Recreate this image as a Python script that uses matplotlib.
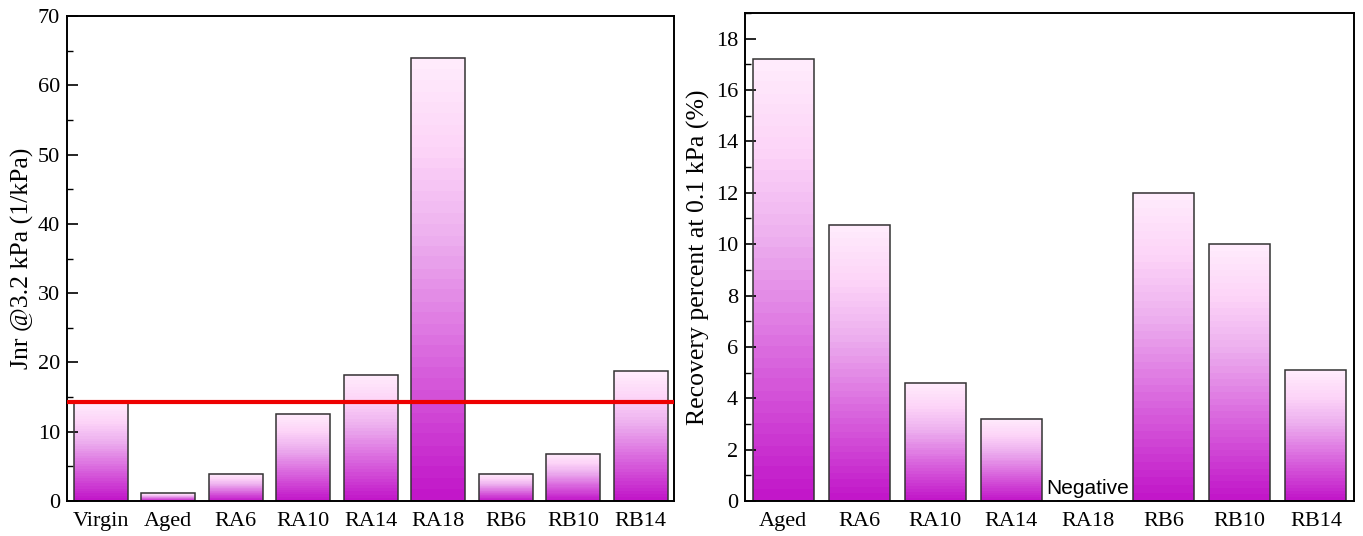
import numpy as np
import matplotlib
matplotlib.use("Agg")
import matplotlib.pyplot as plt
from matplotlib.colors import LinearSegmentedColormap
from matplotlib.ticker import MultipleLocator

# data
jnr_labels = ['Virgin', 'Aged', 'RA6', 'RA10', 'RA14', 'RA18', 'RB6', 'RB10', 'RB14']
jnr_values = [14.3, 1.1, 3.9, 12.6, 18.2, 64.0, 3.9, 6.8, 18.7]
jnr_virgin = 14.3

rec_labels = ['Aged', 'RA6', 'RA10', 'RA14', 'RA18', 'RB6', 'RB10', 'RB14']
rec_values = [17.2, 10.75, 4.6, 3.2, np.nan, 12.0, 10.0, 5.1]
rec_note = 'Negative'

plt.rcParams['font.family'] = 'Liberation Serif'

grad = LinearSegmentedColormap.from_list('pinkfade', [
    (0.0, '#c217c9'),
    (0.35, '#dc6fe0'),
    (0.6, '#edb0ef'),
    (0.8, '#fdd4f8'),
    (1.0, '#ffebfc'),
], N=40)
ramp = np.linspace(0, 1, 256).reshape(-1, 1)


def gradient_bars(ax, labels, values, width=0.8):
    x = np.arange(len(labels))
    for xi, v in zip(x, values):
        if np.isnan(v):
            continue
        ax.imshow(ramp, cmap=grad, origin='lower', aspect='auto',
                  extent=[xi - width / 2, xi + width / 2, 0, v],
                  interpolation='nearest', zorder=1)
    bars_v = [0 if np.isnan(v) else v for v in values]
    ax.bar(x, bars_v, width=width, facecolor='none',
           edgecolor='#333333', linewidth=1.1, zorder=2)
    ax.set_xticks(x)
    ax.set_xticklabels(labels)
    ax.set_xlim(-0.5, len(labels) - 0.5)


def style(ax):
    for s in ax.spines.values():
        s.set_linewidth(1.4)
    ax.tick_params(axis='y', which='major', direction='in', length=8, width=1.2,
                   labelsize=16, right=False, pad=5)
    ax.tick_params(axis='y', which='minor', direction='in', length=4, width=1.0,
                   right=False)
    ax.tick_params(axis='x', length=0, labelsize=16, pad=8)


fig = plt.figure(figsize=(13.63, 5.36), dpi=100)

# ---- left: Jnr
ax1 = fig.add_axes([0.0492, 0.0653, 0.4455, 0.9048])
gradient_bars(ax1, jnr_labels, jnr_values)
ax1.axhline(jnr_virgin, color='#ee0000', lw=3, zorder=3)
ax1.set_ylim(0, 70)
ax1.yaxis.set_major_locator(MultipleLocator(10))
ax1.yaxis.set_minor_locator(MultipleLocator(5))
ax1.set_ylabel('Jnr @3.2 kPa (1/kPa)', fontsize=18.5, labelpad=3)
style(ax1)

# ---- right: recovery
ax2 = fig.add_axes([0.5466, 0.0653, 0.4468, 0.9104])
gradient_bars(ax2, rec_labels, rec_values)
ax2.set_ylim(0, 19)
ax2.yaxis.set_major_locator(MultipleLocator(2))
ax2.yaxis.set_minor_locator(MultipleLocator(1))
ax2.set_ylabel('Recovery percent at 0.1 kPa (%)', fontsize=18.5, labelpad=4)
ax2.text(rec_labels.index('RA18'), 0.12, rec_note, ha='center', va='bottom',
         fontsize=15, family='Liberation Sans')
style(ax2)

fig.savefig('out.png', dpi=100)
